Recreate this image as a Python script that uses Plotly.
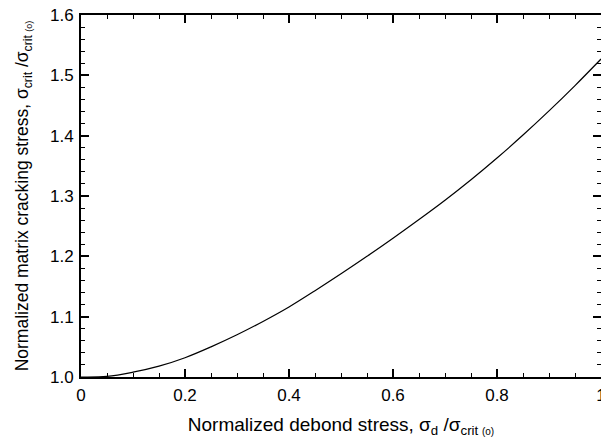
import plotly.graph_objects as go

debond_stress = [0.0, 0.05, 0.10, 0.15, 0.20, 0.25, 0.30, 0.35, 0.40, 0.45, 0.50,
                 0.55, 0.60, 0.65, 0.70, 0.75, 0.80, 0.85, 0.90, 0.95, 1.00]
cracking_stress = [1.000, 1.001, 1.008, 1.018, 1.032, 1.050, 1.070, 1.092, 1.116, 1.143, 1.171,
                   1.200, 1.230, 1.261, 1.293, 1.327, 1.363, 1.401, 1.441, 1.483, 1.527]

x_tickvals = [0, 0.2, 0.4, 0.6, 0.8, 1.0]
x_ticktext = ["0", "0.2", "0.4", "0.6", "0.8", "1"]
y_tickvals = [1.0, 1.1, 1.2, 1.3, 1.4, 1.5, 1.6]
y_ticktext = ["1.0", "1.1", "1.2", "1.3", "1.4", "1.5", "1.6"]

font_family = "Liberation Sans, Arial, sans-serif"

fig = go.Figure()
fig.add_trace(go.Scatter(
    x=debond_stress, y=cracking_stress, mode="lines",
    line=dict(color="black", width=1.2, shape="spline"),
    showlegend=False, hoverinfo="skip"))

axis_common = dict(
    showline=True, linecolor="black", linewidth=2, mirror="ticks",
    ticks="inside", ticklen=8, tickwidth=1.5, tickcolor="black",
    showgrid=False, zeroline=False, automargin=False,
    ticklabeloverflow="allow",
    tickfont=dict(family=font_family, size=17, color="black"),
)

fig.update_xaxes(
    range=[0, 1], tickvals=x_tickvals, ticktext=x_ticktext,
    ticklabelstandoff=2,
    minor=dict(dtick=0.05, tick0=0, ticks="inside", ticklen=4, tickwidth=1.2, tickcolor="black", showgrid=False),
    title=dict(text="Normalized debond stress, σ<sub>d</sub> /σ<sub>crit <span style='font-size:10px'>(o)</span></sub>",
               font=dict(family=font_family, size=19, color="black"), standoff=13),
    **axis_common)
fig.update_yaxes(
    range=[1.0, 1.6], tickvals=y_tickvals, ticktext=y_ticktext,
    ticklabelstandoff=2,
    minor=dict(dtick=0.02, tick0=1.0, ticks="inside", ticklen=4, tickwidth=1.2, tickcolor="black", showgrid=False),
    title=dict(text="Normalized matrix cracking stress, σ<sub>crit</sub> /σ<sub>crit <span style='font-size:9px'>(o)</span></sub>",
               font=dict(family=font_family, size=17.5, color="black"), standoff=17),
    **axis_common)

# The page body adds an 8 px offset, so the figure is sized to fill the rest of the window.
fig.update_layout(
    width=601, height=432,
    margin=dict(l=73, r=8, t=7, b=63),
    paper_bgcolor="white", plot_bgcolor="white",
    font=dict(family=font_family, color="black"),
)

fig.write_html("out.html")
